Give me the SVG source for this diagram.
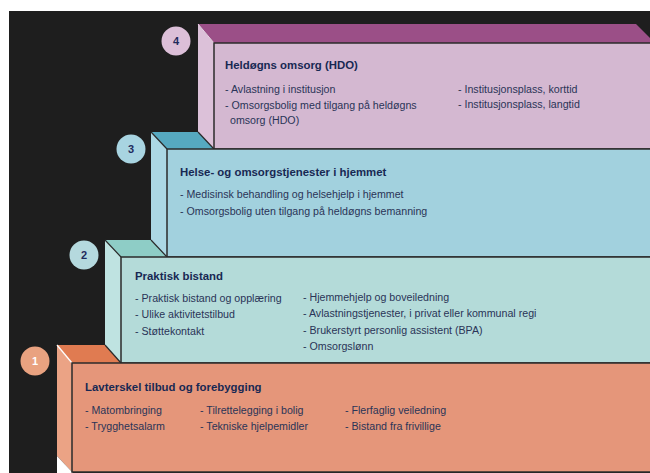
<svg xmlns="http://www.w3.org/2000/svg" width="650" height="473" viewBox="0 0 650 473">
<style>
text{font-family:"Liberation Sans",Arial,sans-serif}
.t{font-size:11.4px;font-weight:bold;fill:#182853}
.b{font-size:10.65px;fill:#2a3457}
.n{font-size:11px;font-weight:bold;fill:#1f2b5c;text-anchor:middle}
.fr{stroke:#2b2b2b;stroke-width:1.5}
.ed{fill:none;stroke:#2b2b2b;stroke-width:1.2}
</style>
<rect x="0" y="0" width="650" height="473" fill="#ffffff"/>
<rect x="9" y="11" width="641" height="462" fill="#1e1e1e"/>

<g id="step4">
<polygon points="198,24 636,24 655,43 214,43" fill="#9b4f87"/>
<polygon points="198,24 214,43 214,149 198,132" fill="#dcc1d9"/>
<line x1="198" y1="24" x2="214" y2="43" stroke="#e8d4e5" stroke-width="1"/>
<rect class="fr" x="214" y="43" width="445" height="106" fill="#d4b8d1"/>
<circle cx="176" cy="41" r="14.5" fill="#dcbfd8"/>
<text class="n" x="176" y="45">4</text>
<text class="t" x="225" y="69">Heldøgns omsorg (HDO)</text>
<text class="b" x="225" y="93">- Avlastning i institusjon</text>
<text class="b" x="225" y="108.5">- Omsorgsbolig med tilgang på heldøgns</text>
<text class="b" x="230" y="123.5">omsorg (HDO)</text>
<text class="b" x="458" y="92.5">- Institusjonsplass, korttid</text>
<text class="b" x="458" y="108">- Institusjonsplass, langtid</text>
</g>

<g id="step3">
<polygon points="151,132 198,132 214,149 167,149" fill="#56a9c0"/>
<line class="ed" x1="198" y1="132" x2="214" y2="149"/>
<polygon points="151,132 167,149 167,257 151,240" fill="#acd8e4"/>
<line class="ed" x1="151" y1="132" x2="167" y2="149"/>
<rect class="fr" x="167" y="149" width="490" height="108" fill="#a2d1de"/>
<circle cx="131" cy="149" r="14.5" fill="#a8d4e1"/>
<text class="n" x="131" y="153">3</text>
<text class="t" x="180" y="176">Helse- og omsorgstjenester i hjemmet</text>
<text class="b" x="180" y="197.5">- Medisinsk behandling og helsehjelp i hjemmet</text>
<text class="b" x="180" y="215">- Omsorgsbolig uten tilgang på heldøgns bemanning</text>
</g>

<g id="step2">
<polygon points="105,240 151,240 167,257 121,257" fill="#8ecdc6"/>
<line class="ed" x1="151" y1="240" x2="167" y2="257"/>
<polygon points="105,240 121,257 121,363 105,345" fill="#bfe3e1"/>
<line class="ed" x1="105" y1="240" x2="121" y2="257"/>
<rect class="fr" x="121" y="257" width="535" height="106" fill="#b4dbd9"/>
<circle cx="84" cy="255" r="14.5" fill="#b5d9de"/>
<text class="n" x="84" y="259">2</text>
<text class="t" x="135" y="280">Praktisk bistand</text>
<text class="b" x="135" y="301.5">- Praktisk bistand og opplæring</text>
<text class="b" x="135" y="318">- Ulike aktivitetstilbud</text>
<text class="b" x="135" y="334.5">- Støttekontakt</text>
<text class="b" x="303" y="300.5">- Hjemmehjelp og boveiledning</text>
<text class="b" x="303" y="317">- Avlastningstjenester, i privat eller kommunal regi</text>
<text class="b" x="303" y="333.5">- Brukerstyrt personlig assistent (BPA)</text>
<text class="b" x="303" y="350">- Omsorgslønn</text>
</g>

<g id="step1">
<polygon points="57,345 105,345 121,363 72,363" fill="#e07b51"/>
<line class="ed" x1="105" y1="345" x2="121" y2="363"/>
<polygon points="57,345 72,363 72,472 57,456" fill="#eba385"/>
<line x1="57" y1="345" x2="72" y2="363" stroke="#ffffff" stroke-width="1.3"/>
<polygon points="57,456 73,473 57,473" fill="#ffffff"/>
<rect class="fr" x="72" y="363" width="585" height="109" fill="#e5967a"/>
<circle cx="35" cy="361" r="14.5" fill="#e9a280"/>
<text class="n" x="35" y="365" style="fill:#ffffff">1</text>
<text class="t" x="85" y="391">Lavterskel tilbud og forebygging</text>
<text class="b" x="85" y="414">- Matombringing</text>
<text class="b" x="85" y="430">- Trygghetsalarm</text>
<text class="b" x="200" y="414">- Tilrettelegging i bolig</text>
<text class="b" x="200" y="430">- Tekniske hjelpemidler</text>
<text class="b" x="345" y="414">- Flerfaglig veiledning</text>
<text class="b" x="345" y="430">- Bistand fra frivillige</text>
</g>

<g id="connectors"></g>
</svg>
